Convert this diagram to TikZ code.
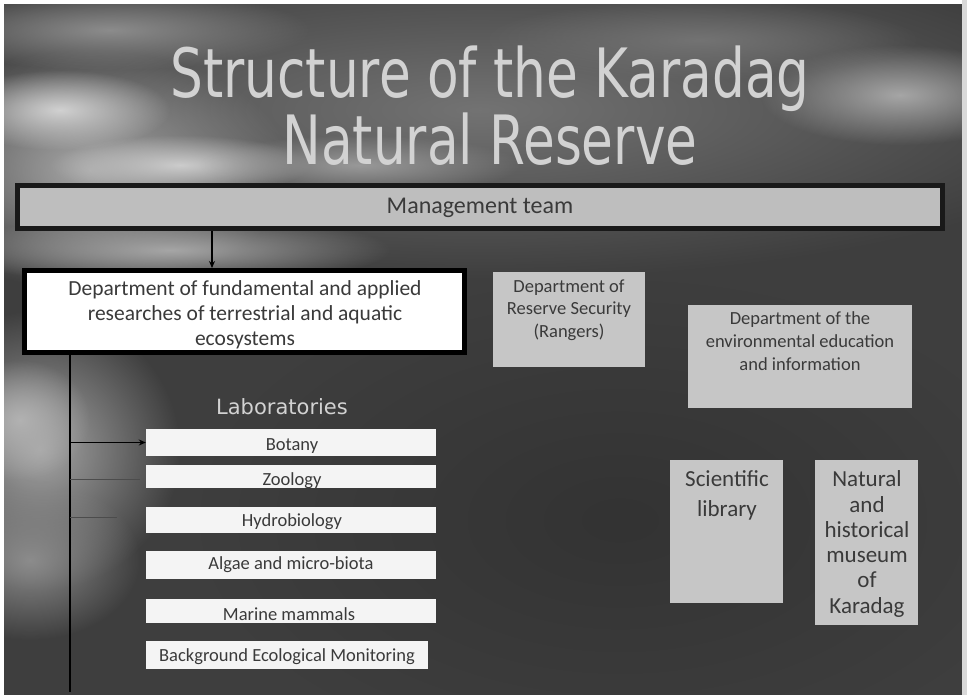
\documentclass[tikz,border=0pt]{standalone}
\usepackage{fontspec}
\setmainfont{Carlito}
\newfontfamily\titlefont{DejaVu Sans}
\usetikzlibrary{fadings,arrows.meta}
\definecolor{bgbase}{HTML}{3E3E3E}
\definecolor{boxgray}{HTML}{C6C6C6}
\definecolor{mgmtgray}{HTML}{BEBEBE}
\definecolor{labwhite}{HTML}{F4F4F4}
\definecolor{txtdark}{HTML}{3A3A3A}
\definecolor{titlegray}{HTML}{D2D2D2}
\tikzfading[name=softblob, inner color=transparent!0, outer color=transparent!100]
\begin{document}
\begin{tikzpicture}[x=1pt,y=-1pt,
  blob/.style={path fading=softblob},
  graybox/.style={draw=none, fill=boxgray, rectangle, inner sep=0pt},
  labbox/.style={draw=none, fill=labwhite, rectangle, inner sep=0pt, minimum width=290, anchor=center},
  bodytext/.style={text=txtdark, align=center, inner sep=0pt},
  labtext/.style={bodytext, font=\fontsize{18.5}{22}\selectfont},
  conn/.style={draw=black, line width=1.3pt},
  arr/.style={conn, -{Stealth[length=7pt,width=6pt]}},
  faint/.style={draw=black!70, line width=0.8pt}
]
\useasboundingbox (0,0) rectangle (967,695);
% ---------- background ----------
\fill[bgbase] (0,0) rectangle (967,695);
\fill[blob, color=black!55] (480,110) ellipse (650 and 170);
\fill[blob, color=black!35] (90,170) ellipse (200 and 120);
\fill[blob, color=black!18] (60,110) ellipse (110 and 40);
\fill[blob, color=black!20] (180,165) ellipse (130 and 30);
\fill[blob, color=black!40] (360,165) ellipse (160 and 30);
\fill[blob, color=black!35] (170,250) ellipse (220 and 35);
\fill[blob, color=black!35] (900,95) ellipse (140 and 50);
\fill[blob, color=black!55] (700,40) ellipse (220 and 40);
\fill[blob, color=black!45] (110,30) ellipse (200 and 40);
\fill[blob, color=black!35] (40,450) ellipse (140 and 140);
\fill[blob, color=black!30] (20,420) ellipse (70 and 60);
\fill[blob, color=black!45] (30,560) ellipse (110 and 80);
\fill[blob, color=black!80] (620,520) ellipse (420 and 240);
\fill[white] (0,0) rectangle (967,4);
\fill[white] (0,0) rectangle (4,695);
\fill[white!85!black] (962,0) rectangle (967,695);
% ---------- title ----------
\node[anchor=north, text=titlegray, inner sep=0pt, align=center,
      font=\titlefont\fontsize{68}{63}\selectfont] (title) at (490,46)
  {\scalebox{0.76}[1]{Structure of the Karadag}\\\scalebox{0.76}[1]{Natural Reserve}};
% ---------- boxes ----------
\node[draw=black!90, line width=5pt, fill=mgmtgray, minimum width=925, minimum height=43, inner sep=0pt,
      text=txtdark, font=\fontsize{24}{28}\selectfont] (mgmt) at (480,207.5) {Management team};
\node[draw=black, line width=5pt, fill=white, minimum width=440, minimum height=82, inner sep=0pt] (dept) at (244.5,311.5) {};
\node[bodytext, font=\fontsize{21.5}{25}\selectfont] (depttext) at (245,315)
  {Department of fundamental and applied\\researches of terrestrial and aquatic\\ecosystems};
\node[graybox, minimum width=152, minimum height=95] (rangers) at (569,319.5) {};
\node[bodytext, font=\fontsize{18.5}{22.5}\selectfont] (rangerstext) at (569,310)
  {Department of\\Reserve Security\\(Rangers)};
\node[graybox, minimum width=224, minimum height=103] (envedu) at (800,356.5) {};
\node[bodytext, font=\fontsize{18.5}{23}\selectfont] (envtext) at (800,341)
  {Department of the\\environmental education\\and information};
\node[text=titlegray, inner sep=0pt, font=\titlefont\fontsize{21}{24}\selectfont, anchor=base]
  (labs) at (282,414) {Laboratories};
% labs
\node[labbox, minimum height=27] (botany) at (291,442.5) {};
\node[labbox, minimum height=23] (zoology) at (291,476.5) {};
\node[labbox, minimum height=26] (hydro) at (291,520) {};
\node[labbox, minimum height=28] (algae) at (291,565) {};
\node[labbox, minimum height=24] (marine) at (291,611) {};
\node[labbox, minimum width=282, minimum height=28] (bgmon) at (287,655) {};
\node[labtext] (botanyt) at (292,446) {Botany};
\node[labtext] (zoologyt) at (292,481) {Zoology};
\node[labtext] (hydrot) at (292,522) {Hydrobiology};
\node[labtext] (algaet) at (291,565) {Algae and micro-biota};
\node[labtext] (marinet) at (289,614) {Marine mammals};
\node[labtext] (bgmont) at (287,657) {Background Ecological Monitoring};
% right column
\node[graybox, minimum width=113, minimum height=143] (library) at (726.5,531.5) {};
\node[bodytext, font=\fontsize{23}{30}\selectfont] (librarytext) at (727,495) {Scientific\\library};
\node[graybox, minimum width=103, minimum height=165] (museum) at (866.5,542.5) {};
\node[bodytext, font=\fontsize{23}{25.3}\selectfont] (museumtext) at (867,544)
  {Natural\\and\\historical\\museum\\of\\Karadag};
% ---------- connectors ----------
\coordinate (ax) at (212,0);
\coordinate (vx) at (70,0);
\coordinate (vend) at (70,692);
\coordinate (zend) at (140,479);
\coordinate (hend) at (117,517);
\draw[arr] (mgmt.south -| ax) -- (dept.north -| ax);
\draw[conn] (dept.south -| vx) -- (vend);
\draw[arr] (botany.west -| vx) -- (botany.west);
\draw[faint] (zend -| vx) -- (zend);
\draw[faint] (hend -| vx) -- (hend);
\end{tikzpicture}
\end{document}
